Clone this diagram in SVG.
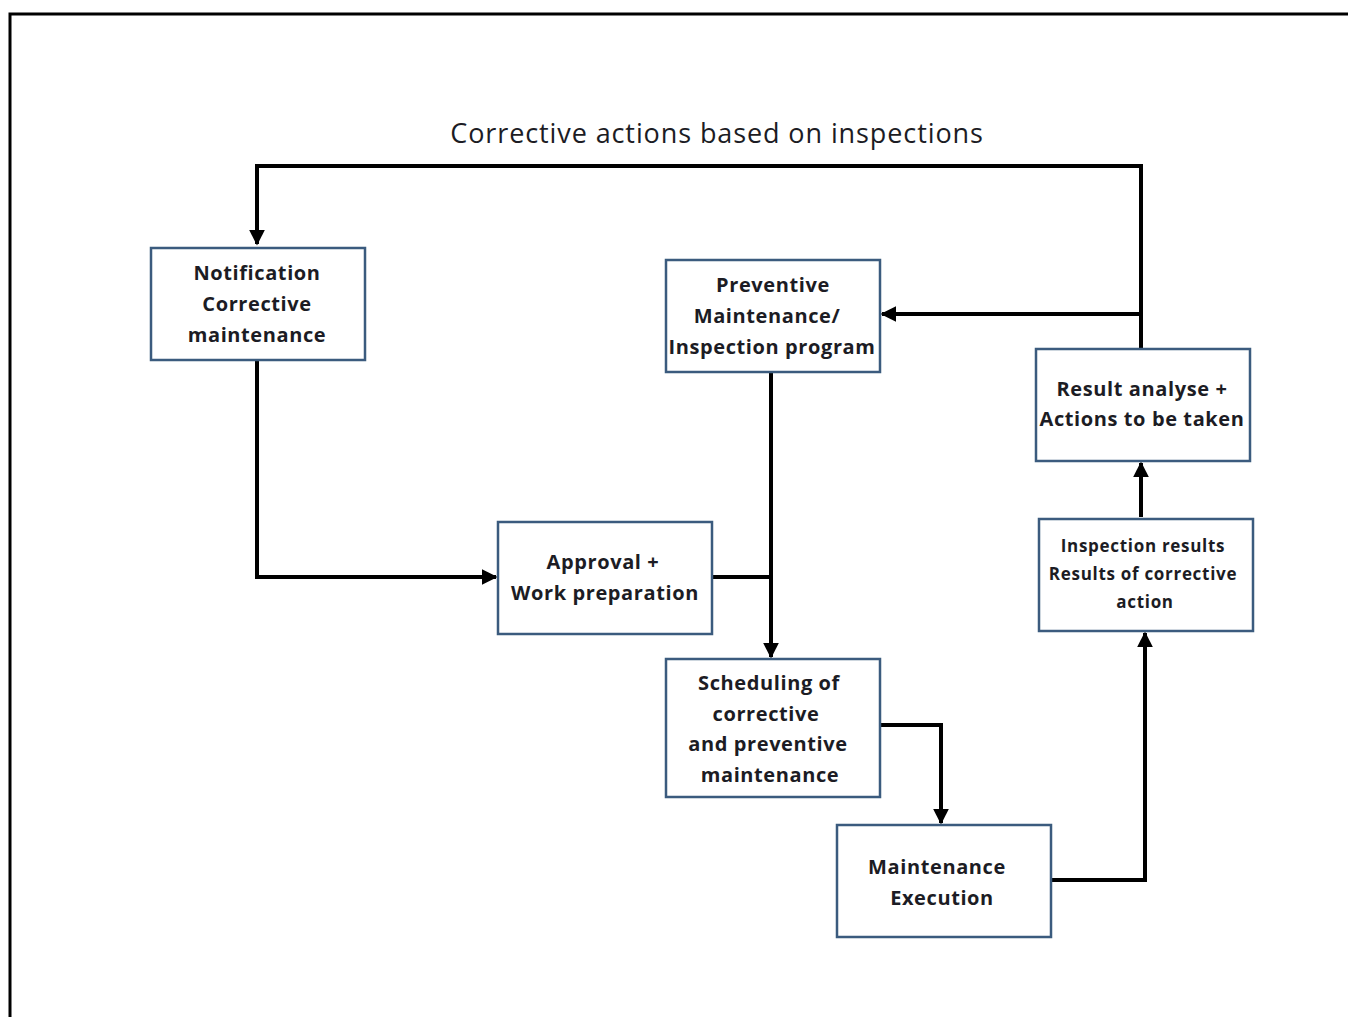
<svg xmlns="http://www.w3.org/2000/svg" width="1348" height="1017" viewBox="0 0 1348 1017">
  <style>
    .box { fill: #ffffff; stroke: #3b5b7e; stroke-width: 2.5; }
    .lbl { font-family: "Open Sans", "Liberation Sans", sans-serif; font-weight: bold; font-size: 20px; letter-spacing: 0.6px; fill: #1c1c24; text-anchor: middle; dominant-baseline: central; }
    .small { font-size: 17px; letter-spacing: 0.7px; }
    .wire { fill: none; stroke: #000000; stroke-width: 4; }
    .title { font-family: "Open Sans", "Liberation Sans", sans-serif; font-size: 27px; letter-spacing: 0.9px; fill: #1c1c24; text-anchor: middle; dominant-baseline: central; }
  </style>
  <defs>
    <marker id="arrow" viewBox="0 0 10 10" refX="9" refY="5" markerWidth="4" markerHeight="4" orient="auto" markerUnits="strokeWidth">
      <path d="M0,0 L10,5 L0,10 z" fill="#000000"/>
    </marker>
  </defs>

  <rect x="0" y="0" width="1348" height="1017" fill="#ffffff"/>
  <!-- outer frame -->
  <path d="M10,1017 L10,14 L1348,14" fill="none" stroke="#000000" stroke-width="3"/>

  <text class="title" x="717" y="132">Corrective actions based on inspections</text>

  <g id="connectors">
    <path class="wire" d="M1141,349 L1141,166 L257,166 L257,244" marker-end="url(#arrow)"/>
    <path class="wire" d="M1141,314 L882,314" marker-end="url(#arrow)"/>
    <path class="wire" d="M257,360 L257,577 L496,577" marker-end="url(#arrow)"/>
    <path class="wire" d="M712,577 L771,577"/>
    <path class="wire" d="M771,372 L771,657" marker-end="url(#arrow)"/>
    <path class="wire" d="M880,725 L941,725 L941,823" marker-end="url(#arrow)"/>
    <path class="wire" d="M1051,880 L1145,880 L1145,633" marker-end="url(#arrow)"/>
    <path class="wire" d="M1141,517 L1141,463" marker-end="url(#arrow)"/>
  </g>

  <g id="notification">
    <rect class="box" x="151" y="248" width="214" height="112"/>
    <text class="lbl" x="257" y="272">Notification</text>
    <text class="lbl" x="257" y="303">Corrective</text>
    <text class="lbl" x="257" y="334">maintenance</text>
  </g>

  <g id="preventive">
    <rect class="box" x="666" y="260" width="214" height="112"/>
    <text class="lbl" x="773" y="284">Preventive</text>
    <text class="lbl" x="767" y="315">Maintenance/</text>
    <text class="lbl" x="772" y="346">Inspection program</text>
  </g>

  <g id="result">
    <rect class="box" x="1036" y="349" width="214" height="112"/>
    <text class="lbl" x="1142" y="388">Result analyse  +</text>
    <text class="lbl" x="1142" y="418">Actions  to be taken</text>
  </g>

  <g id="inspection">
    <rect class="box" x="1039" y="519" width="214" height="112"/>
    <text class="lbl small" x="1143" y="545">Inspection  results</text>
    <text class="lbl small" x="1143" y="573">Results of corrective</text>
    <text class="lbl small" x="1145" y="601">action</text>
  </g>

  <g id="approval">
    <rect class="box" x="498" y="522" width="214" height="112"/>
    <text class="lbl" x="603" y="561">Approval  +</text>
    <text class="lbl" x="605" y="592">Work preparation</text>
  </g>

  <g id="scheduling">
    <rect class="box" x="666" y="659" width="214" height="138"/>
    <text class="lbl" x="769" y="682">Scheduling of</text>
    <text class="lbl" x="766" y="713">corrective</text>
    <text class="lbl" x="768" y="743">and preventive</text>
    <text class="lbl" x="770" y="774">maintenance</text>
  </g>

  <g id="execution">
    <rect class="box" x="837" y="825" width="214" height="112"/>
    <text class="lbl" x="937" y="866">Maintenance</text>
    <text class="lbl" x="942" y="897">Execution</text>
  </g>
</svg>
